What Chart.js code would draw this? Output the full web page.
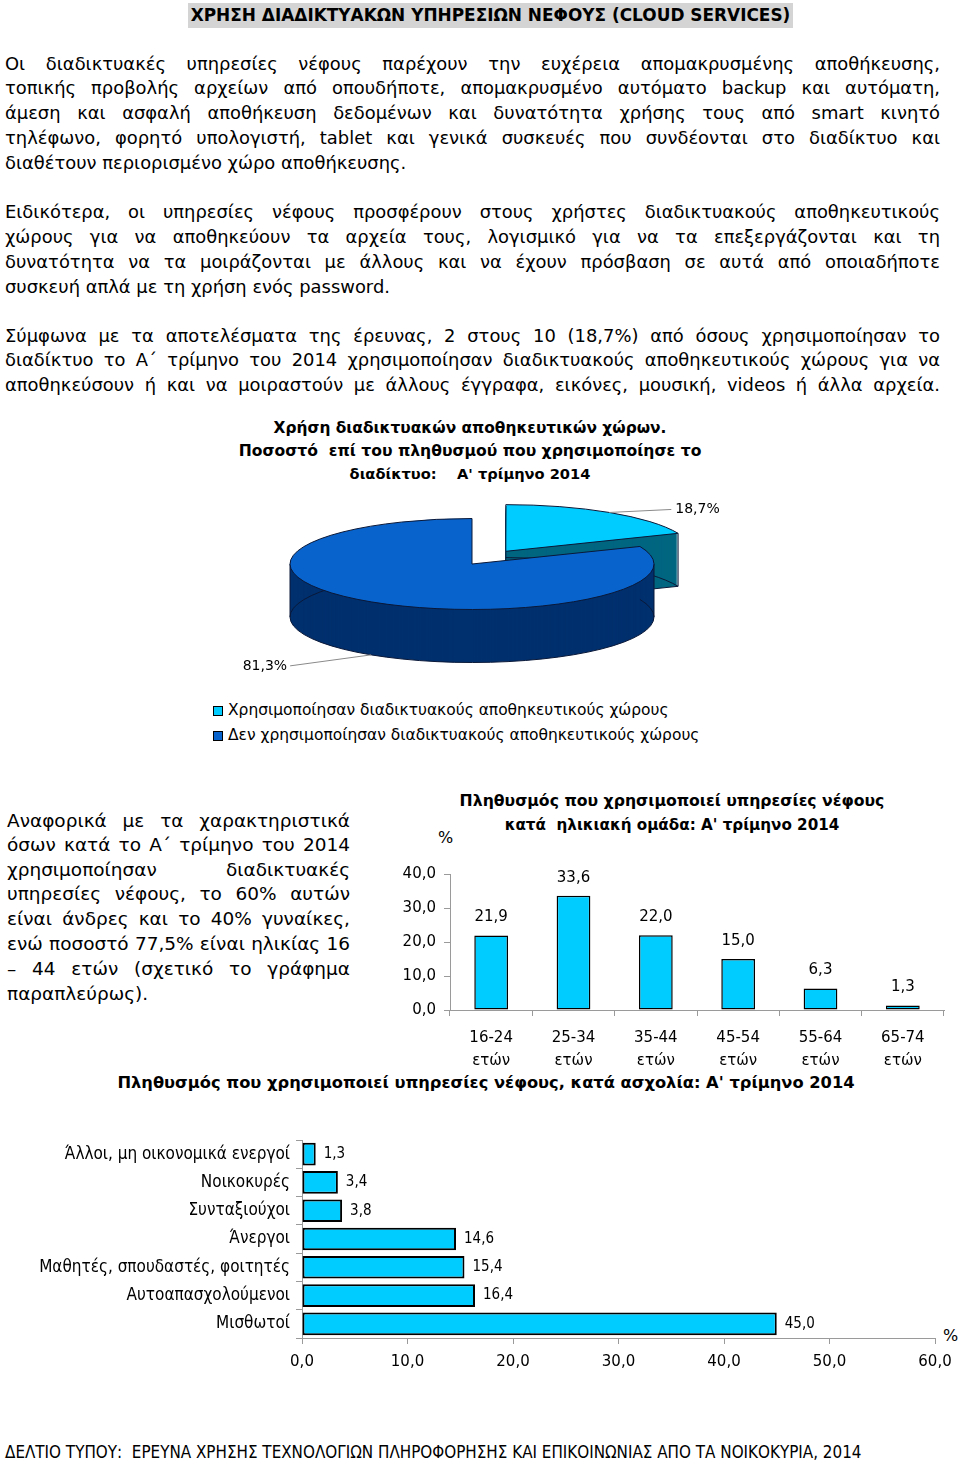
<!DOCTYPE html>
<html lang="el">
<head>
<meta charset="utf-8">
<title>Χρήση διαδικτυακών υπηρεσιών νέφους</title>
<script src="https://cdn.jsdelivr.net/npm/chart.js@4.4.1/dist/chart.umd.min.js"></script>
<style>
  html, body { margin: 0; padding: 0; background: #fff; }
  body { width: 960px; height: 1463px; position: relative; overflow: hidden; font-family: "DejaVu Sans", sans-serif; color: #000; }
  .ln { position: absolute; line-height: 24px; height: 24px; }
  .j { text-align: justify; text-align-last: justify; }
  .body { left: 5px; width: 935px; font-size: 18px; }
  .side { left: 7px; width: 343px; font-size: 19px; }
  .ttl { font-weight: bold; text-align: center; white-space: pre; }
  .leg { position: absolute; left: 213px; line-height: 24px; font-size: 15px; white-space: nowrap; }
  .leg i { display: inline-block; width: 8px; height: 8px; border: 1px solid #000; margin-right: 5px; vertical-align: -1px; }
  canvas { position: absolute; pointer-events: none; }
</style>
</head>
<body>

<div id="docTitle" class="ln ttl" style="left:188px;top:3px;width:605px;height:25px;line-height:25px;background:#d4d4d4;font-size:17px;">ΧΡΗΣΗ ΔΙΑΔΙΚΤΥΑΚΩΝ ΥΠΗΡΕΣΙΩΝ ΝΕΦΟΥΣ (CLOUD SERVICES)</div>

<div class="ln body j" style="top:52px">Οι διαδικτυακές υπηρεσίες νέφους παρέχουν την ευχέρεια απομακρυσμένης αποθήκευσης,</div>
<div class="ln body j" style="top:76px">τοπικής προβολής αρχείων από οπουδήποτε, απομακρυσμένο αυτόματο backup και αυτόματη,</div>
<div class="ln body j" style="top:101px">άμεση και ασφαλή αποθήκευση δεδομένων και δυνατότητα χρήσης τους από smart κινητό</div>
<div class="ln body j" style="top:126px">τηλέφωνο, φορητό υπολογιστή, tablet και γενικά συσκευές που συνδέονται στο διαδίκτυο  και</div>
<div id="bodyRef" class="ln body" style="top:151px">διαθέτουν περιορισμένο χώρο αποθήκευσης.</div>

<div class="ln body j" style="top:200px">Ειδικότερα, οι υπηρεσίες νέφους προσφέρουν στους χρήστες διαδικτυακούς αποθηκευτικούς</div>
<div class="ln body j" style="top:225px">χώρους για να αποθηκεύουν τα αρχεία τους, λογισμικό για να τα επεξεργάζονται και τη</div>
<div class="ln body j" style="top:250px">δυνατότητα να τα μοιράζονται με άλλους και να έχουν πρόσβαση σε αυτά από οποιαδήποτε</div>
<div class="ln body" style="top:275px">συσκευή απλά με τη χρήση ενός password.</div>

<div class="ln body j" style="top:324px">Σύμφωνα με τα αποτελέσματα της έρευνας, 2 στους 10 (18,7%) από όσους χρησιμοποίησαν το</div>
<div class="ln body j" style="top:348px">διαδίκτυο το Α΄ τρίμηνο του 2014 χρησιμοποίησαν διαδικτυακούς αποθηκευτικούς χώρους για να</div>
<div class="ln body j" style="top:373px">αποθηκεύσουν ή και να μοιραστούν με άλλους έγγραφα, εικόνες, μουσική, videos ή άλλα αρχεία.</div>

<div id="pieT1" class="ln ttl" style="left:170px;width:600px;top:416px;font-size:15px">Χρήση διαδικτυακών αποθηκευτικών χώρων.</div>
<div id="pieT2" class="ln ttl" style="left:170px;width:600px;top:439px;font-size:15px">Ποσοστό  επί του πληθυσμού που χρησιμοποίησε το</div>
<div id="pieT3" class="ln ttl" style="left:170px;width:600px;top:462px;font-size:15px">διαδίκτυο:    Α' τρίμηνο 2014</div>

<div id="pieLegend"></div>

<div class="ln side j" style="top:809px">Αναφορικά με τα χαρακτηριστικά</div>
<div class="ln side j" style="top:833px">όσων κατά το Α΄ τρίμηνο του 2014</div>
<div class="ln side j" style="top:858px">χρησιμοποίησαν διαδικτυακές</div>
<div class="ln side j" style="top:882px">υπηρεσίες νέφους, το 60% αυτών</div>
<div class="ln side j" style="top:907px">είναι άνδρες και το 40% γυναίκες,</div>
<div class="ln side j" style="top:932px">ενώ ποσοστό 77,5% είναι ηλικίας 16</div>
<div class="ln side j" style="top:957px">– 44 ετών (σχετικό το γράφημα</div>
<div id="sideRef" class="ln side" style="top:982px">παραπλεύρως).</div>

<div id="ageT1" class="ln ttl" style="left:392px;width:560px;top:789px;font-size:15px">Πληθυσμός που χρησιμοποιεί υπηρεσίες νέφους</div>
<div id="ageT2" class="ln ttl" style="left:392px;width:560px;top:813px;font-size:15px">κατά  ηλικιακή ομάδα: Α' τρίμηνο 2014</div>
<div class="ln" style="left:438px;top:826px;font-size:16px">%</div>

<div id="jobT" class="ln ttl" style="left:36px;width:900px;top:1071px;font-size:16px">Πληθυσμός που χρησιμοποιεί υπηρεσίες νέφους, κατά ασχολία: Α' τρίμηνο 2014</div>
<div class="ln" style="left:943px;top:1324px;font-size:16px">%</div>

<div id="footer" class="ln" style="left:5px;top:1440px;font-family:'DejaVu Sans Condensed','DejaVu Sans',sans-serif;font-size:15px;white-space:pre">ΔΕΛΤΙΟ ΤΥΠΟΥ:  ΕΡΕΥΝΑ ΧΡΗΣΗΣ ΤΕΧΝΟΛΟΓΙΩΝ ΠΛΗΡΟΦΟΡΗΣΗΣ ΚΑΙ ΕΠΙΚΟΙΝΩΝΙΑΣ ΑΠΟ ΤΑ ΝΟΙΚΟΚΥΡΙΑ, 2014</div>

<canvas id="pieChart" width="720" height="440" style="left:112px;top:344px"></canvas>
<canvas id="ageChart" width="575" height="230" style="left:380px;top:840px"></canvas>
<canvas id="jobChart" width="960" height="250" style="left:0px;top:1130px"></canvas>

<script>
// data
const pieLabels = ['Χρησιμοποίησαν διαδικτυακούς αποθηκευτικούς χώρους', 'Δεν χρησιμοποίησαν διαδικτυακούς αποθηκευτικούς χώρους'];
const pieValues = [18.7, 81.3];

const ageGroups = [['16-24', 'ετών'], ['25-34', 'ετών'], ['35-44', 'ετών'], ['45-54', 'ετών'], ['55-64', 'ετών'], ['65-74', 'ετών']];
const ageValues = [21.9, 33.6, 22.0, 15.0, 6.3, 1.3];
const ageTicks = [0, 10, 20, 30, 40];

const occupations = ['Άλλοι, μη οικονομικά ενεργοί', 'Νοικοκυρές', 'Συνταξιούχοι', 'Άνεργοι', 'Μαθητές, σπουδαστές, φοιτητές', 'Αυτοαπασχολούμενοι', 'Μισθωτοί'];
const occupationValues = [1.3, 3.4, 3.8, 14.6, 15.4, 16.4, 45.0];
const occupationTicks = [0, 10, 20, 30, 40, 50, 60];

// colours
const pieTopColors = ['#00CCFF', '#0864CC'];
const pieSideColors = ['#006680', '#00306E'];
const barColor = '#00CCFF';
const axisColor = '#9a9a9a';

const FONT = "'DejaVu Sans', sans-serif";
const FONT_NARROW = "'DejaVu Sans Condensed', 'DejaVu Sans', sans-serif";

Chart.defaults.font.family = FONT;
Chart.defaults.color = '#000';

const fmt = v => Number(v).toFixed(1).replace('.', ',');

// no extra label padding, so the plot area sits where the layout says
const noScalePadding = s => { s.paddingTop = 0; s.paddingBottom = 0; s.paddingLeft = 0; s.paddingRight = 0; };

// ---------- pie with a fake 3d extrusion ----------
function arcGeom(arc) {
    const off = (arc.options.offset || 0) / 4;
    const mid = (arc.startAngle + arc.endAngle) / 2;
    const fix = 1 - Math.sin(Math.min(Math.PI, arc.endAngle - arc.startAngle));
    return {
        x: arc.x + Math.cos(mid) * off,
        y: arc.y + Math.sin(mid) * off,
        r: arc.outerRadius + off * fix,
        start: arc.startAngle,
        end: arc.endAngle,
        mid
    };
}

function slicePath(ctx, g) {
    ctx.beginPath();
    ctx.moveTo(g.x, g.y);
    ctx.arc(g.x, g.y, g.r, g.start, g.end);
    ctx.closePath();
}

function inArc(a, g) {
    let t = a;
    while (t < g.start) t += Math.PI * 2;
    while (t > g.start + Math.PI * 2) t -= Math.PI * 2;
    return t <= g.end;
}

// radial faces that turn towards the viewer
function visibleCuts(g) {
    const cuts = [];
    if (Math.cos(g.end) > 0.01) cuts.push(g.end);
    if (Math.cos(g.start) < -0.01) cuts.push(g.start);
    return cuts;
}

const pie3d = {
    id: 'pie3d',
    beforeDatasetsDraw(chart, args, opts) {
        const ctx = chart.ctx;
        const arcs = chart.getDatasetMeta(0).data;
        const cy = arcs[0].y;
        const s = opts.squash;
        const toY = (y, d) => cy + (y - cy) * s + d;

        arcs.forEach((arc, i) => {
            const g = arcGeom(arc);
            for (let d = opts.depth; d >= 1; d--) {
                ctx.save();
                ctx.translate(0, cy * (1 - s) + d);
                ctx.scale(1, s);
                slicePath(ctx, g);
                ctx.restore();
                ctx.fillStyle = opts.sideColors[i];
                ctx.fill();
            }

            // bottom rim
            ctx.save();
            ctx.translate(0, cy * (1 - s) + opts.depth);
            ctx.scale(1, s);
            ctx.beginPath();
            ctx.arc(g.x, g.y, g.r, g.start, g.end);
            ctx.restore();
            ctx.strokeStyle = opts.edgeColor;
            ctx.lineWidth = 1;
            ctx.stroke();

            // visible cut faces and vertical edges
            const cuts = visibleCuts(g);
            ctx.beginPath();
            cuts.forEach(a => {
                const rx = g.x + g.r * Math.cos(a), ry = g.y + g.r * Math.sin(a);
                ctx.moveTo(g.x, toY(g.y, opts.depth));
                ctx.lineTo(rx, toY(ry, opts.depth));
                ctx.moveTo(rx, toY(ry, 0));
                ctx.lineTo(rx, toY(ry, opts.depth));
                ctx.moveTo(g.x, toY(g.y, 0));
                ctx.lineTo(g.x, toY(g.y, opts.depth));
            });
            [0, Math.PI].forEach(a => {
                if (!inArc(a, g)) return;
                const rx = g.x + g.r * Math.cos(a), ry = g.y + g.r * Math.sin(a);
                ctx.moveTo(rx, toY(ry, 0));
                ctx.lineTo(rx, toY(ry, opts.depth));
            });
            ctx.stroke();
        });

        ctx.save();
        ctx.translate(0, cy * (1 - s));
        ctx.scale(1, s);
    },
    afterDatasetsDraw(chart, args, opts) {
        const ctx = chart.ctx;
        ctx.restore();
        const arcs = chart.getDatasetMeta(0).data;
        const cy = arcs[0].y;
        const s = opts.squash;
        const toY = (y, d) => cy + (y - cy) * s + d;

        arcs.forEach(arc => {
            const g = arcGeom(arc);
            ctx.save();
            ctx.translate(0, cy * (1 - s));
            ctx.scale(1, s);
            slicePath(ctx, g);
            ctx.restore();
            ctx.strokeStyle = opts.edgeColor;
            ctx.lineWidth = 1;
            ctx.stroke();
        });

        // value labels with leader lines
        ctx.save();
        ctx.font = opts.font;
        ctx.textBaseline = 'middle';
        arcs.forEach((arc, i) => {
            const g = arcGeom(arc);
            const L = opts.leaders[i];
            const x0 = g.x + g.r * Math.cos(g.mid);
            const y0 = toY(g.y + g.r * Math.sin(g.mid), L.onBottom ? opts.depth : 0);
            const x1 = x0 + L.dx, y1 = y0 + L.dy;
            ctx.strokeStyle = opts.leaderColor;
            ctx.lineWidth = 1;
            ctx.beginPath();
            ctx.moveTo(x0, y0);
            ctx.lineTo(x1, y1);
            ctx.stroke();
            ctx.fillStyle = '#000';
            ctx.textAlign = L.dx > 0 ? 'left' : 'right';
            ctx.fillText(fmt(chart.data.datasets[0].data[i]) + '%', x1 + (L.dx > 0 ? 4 : -3), y1);
        });
        ctx.restore();
    }
};

new Chart(document.getElementById('pieChart'), {
    type: 'pie',
    data: {
        labels: pieLabels,
        datasets: [{
            data: pieValues,
            backgroundColor: pieTopColors,
            borderWidth: 0,
            offset: [244, 0],
            clip: false
        }]
    },
    options: {
        responsive: false,
        animation: false,
        events: [],
        radius: 182,
        layout: { padding: 0 },
        plugins: {
            legend: { display: false },
            tooltip: { enabled: false },
            pie3d: {
                squash: 0.25,
                depth: 53,
                sideColors: pieSideColors,
                edgeColor: '#0a1838',
                leaderColor: '#8a8a8a',
                font: '14px ' + FONT,
                leaders: [
                    { dx: 62, dy: -3, onBottom: false },
                    { dx: -81, dy: 11, onBottom: true }
                ]
            }
        }
    },
    plugins: [pie3d]
});

// legend for the pie, in html
const legendBox = document.getElementById('pieLegend');
pieLabels.forEach((label, i) => {
    const div = document.createElement('div');
    div.className = 'leg';
    div.style.top = (698 + i * 25) + 'px';
    div.innerHTML = `<i style="background:${pieTopColors[i]}"></i><span>${label}</span>`;
    legendBox.appendChild(div);
});

// ---------- value labels for the bar charts ----------
const barValueLabels = {
    id: 'barValueLabels',
    afterDatasetsDraw(chart, args, opts) {
        const ctx = chart.ctx;
        const meta = chart.getDatasetMeta(0);
        const values = chart.data.datasets[0].data;
        ctx.save();
        ctx.font = opts.font;
        ctx.fillStyle = '#000';
        ctx.textBaseline = 'middle';
        meta.data.forEach((bar, i) => {
            if (opts.horizontal) {
                ctx.textAlign = 'left';
                ctx.fillText(fmt(values[i]), bar.x + opts.gap, bar.y);
            } else {
                ctx.textAlign = 'center';
                ctx.fillText(fmt(values[i]), bar.x, bar.y - opts.gap);
            }
        });
        ctx.restore();
    }
};

// ---------- age group bars ----------
new Chart(document.getElementById('ageChart'), {
    type: 'bar',
    data: {
        labels: ageGroups,
        datasets: [{
            data: ageValues,
            backgroundColor: barColor,
            borderColor: '#000',
            borderWidth: 1.5,
            borderSkipped: false,
            barPercentage: 0.41,
            categoryPercentage: 1
        }]
    },
    options: {
        responsive: false,
        animation: false,
        events: [],
        layout: { padding: { top: 34, right: 11, left: 0, bottom: 0 } },
        plugins: {
            legend: { display: false },
            tooltip: { enabled: false },
            barValueLabels: { font: '15px ' + FONT, gap: 18, horizontal: false }
        },
        scales: {
            x: {
                grid: { drawOnChartArea: false, tickLength: 6, color: axisColor, offset: true },
                border: { color: axisColor },
                ticks: { font: { size: 15, lineHeight: 1.5 }, color: '#000', padding: 11, maxRotation: 0, autoSkip: false },
                afterFit: s => { noScalePadding(s); s.height = 60; }
            },
            y: {
                min: 0,
                max: 40,
                afterBuildTicks: s => { s.ticks = ageTicks.map(v => ({ value: v })); },
                grid: { drawOnChartArea: false, tickLength: 6, color: axisColor },
                border: { color: axisColor },
                ticks: { font: { size: 15 }, color: '#000', padding: 8, callback: v => fmt(v) },
                afterFit: s => { noScalePadding(s); s.width = 70; }
            }
        }
    },
    plugins: [barValueLabels]
});

// ---------- occupation bars ----------
new Chart(document.getElementById('jobChart'), {
    type: 'bar',
    data: {
        labels: occupations,
        datasets: [{
            data: occupationValues,
            backgroundColor: barColor,
            borderColor: '#000',
            borderWidth: 2,
            borderSkipped: false,
            barPercentage: 1,
            categoryPercentage: 0.8
        }]
    },
    options: {
        indexAxis: 'y',
        responsive: false,
        animation: false,
        events: [],
        layout: { padding: { top: 10, right: 25, left: 0, bottom: 0 } },
        plugins: {
            legend: { display: false },
            tooltip: { enabled: false },
            barValueLabels: { font: '15px ' + FONT_NARROW, gap: 8, horizontal: true }
        },
        scales: {
            x: {
                min: 0,
                max: 60,
                afterBuildTicks: s => { s.ticks = occupationTicks.map(v => ({ value: v })); },
                grid: { drawOnChartArea: false, tickLength: 6, color: axisColor },
                border: { color: axisColor },
                ticks: { font: { size: 15 }, color: '#000', padding: 9, callback: v => fmt(v) },
                afterFit: s => { noScalePadding(s); s.height = 42; }
            },
            y: {
                grid: { drawOnChartArea: false, tickLength: 6, color: axisColor, offset: true },
                border: { color: axisColor },
                ticks: { font: { size: 17, family: FONT_NARROW }, color: '#000', padding: 6, autoSkip: false },
                afterFit: s => { noScalePadding(s); s.width = 302; }
            }
        }
    },
    plugins: [barValueLabels]
});

// ---------- fit the html text to the widths in the picture ----------
function measure(el) {
    const keep = el.innerHTML;
    const span = document.createElement('span');
    span.style.whiteSpace = 'pre';
    span.textContent = el.textContent;
    el.textContent = '';
    el.appendChild(span);
    const w = span.getBoundingClientRect().width;
    el.innerHTML = keep;
    return w;
}

function fitLines(lines, refEl, refWidth, maxWidth) {
    const size = parseFloat(getComputedStyle(lines[0]).fontSize);
    let k = refWidth / measure(refEl);
    if (maxWidth) {
        const widest = Math.max(...lines.map(measure));
        if (widest * k > maxWidth) k = maxWidth / widest * 0.995;
    }
    lines.forEach(l => { l.style.fontSize = (size * k).toFixed(2) + 'px'; });
}

function fitOne(id, width) {
    const el = document.getElementById(id);
    fitLines([el], el, width);
}

document.fonts.ready.then(() => {
    fitLines([...document.querySelectorAll('.body')], document.getElementById('bodyRef'), 435, 935);
    fitLines([...document.querySelectorAll('.side')], document.getElementById('sideRef'), 154, 343);
    fitOne('docTitle', 600);
    fitOne('pieT1', 393);
    fitOne('pieT2', 463);
    fitOne('pieT3', 241);
    fitOne('ageT1', 425);
    fitOne('ageT2', 335);
    fitOne('jobT', 738);
    fitOne('footer', 857);
    const legs = [...document.querySelectorAll('.leg span')];
    fitLines(legs.map(s => s.parentNode), legs[0], 441);
});
</script>
</body>
</html>
